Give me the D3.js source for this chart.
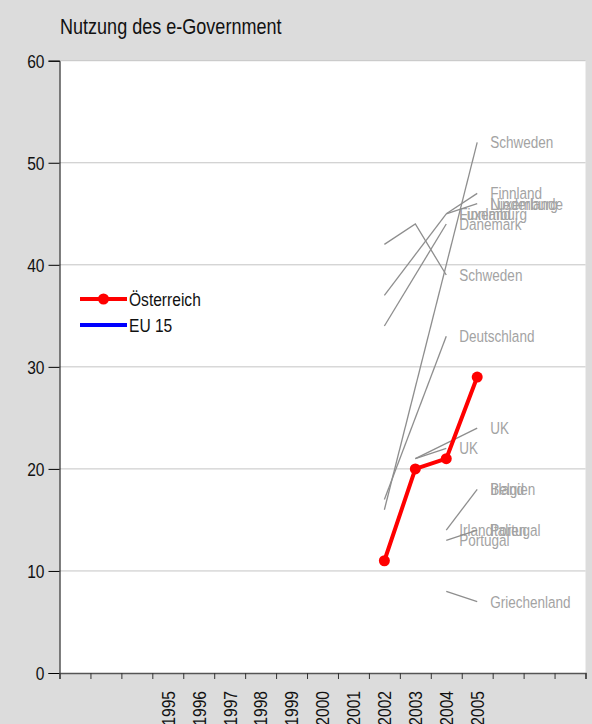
<!DOCTYPE html>
<html>
<head>
<meta charset="utf-8">
<script src="https://cdn.jsdelivr.net/npm/d3@7/dist/d3.min.js"></script>
<style>
  html, body { margin: 0; padding: 0; background: #dcdcdc; }
  svg { display: block; font-family: "Liberation Sans", Arial, sans-serif; }
</style>
</head>
<body>
<svg id="chart" width="592" height="724"></svg>
<script>
// Category slots along the x axis (only 1995-2005 carry a label)
const years = [1992, 1993, 1994, 1995, 1996, 1997, 1998, 1999, 2000, 2001, 2002, 2003, 2004, 2005, 2006, 2007, 2008];
const yearLabels = ["1995", "1996", "1997", "1998", "1999", "2000", "2001", "2002", "2003", "2004", "2005"];
const yTicks = [0, 10, 20, 30, 40, 50, 60];

// Österreich
const austriaYears = [2002, 2003, 2004, 2005];
const austriaValues = [11, 20, 21, 29];

// Country comparison lines, values for 2002..2005 (null = no value)
const compareYears = [2002, 2003, 2004, 2005];
const countriesA = ["Schweden", "Finnland", "Luxemburg", "Dänemark", "Deutschland", "UK", "Irland", "Portugal"];
const valuesA = [
  [42, 44, 39, null],
  [37, null, 45, null],
  [null, null, 45, null],
  [34, null, 44, null],
  [17, null, 33, null],
  [null, 21, 22, null],
  [null, null, 14, null],
  [null, null, 13, null]
];
const countriesB = ["Schweden", "Finnland", "Niederlande", "Luxemburg", "UK", "Belgien", "Irland", "Italien", "Portugal", "Griechenland"];
const valuesB = [
  [16, null, null, 52],
  [null, null, 45, 47],
  [null, null, null, 46],
  [null, null, 45, 46],
  [null, 21, null, 24],
  [null, null, null, 18],
  [null, null, 14, 18],
  [null, null, null, 14],
  [null, null, 13, 14],
  [null, null, 8, 7]
];

const legendNames = ["Österreich", "EU 15"];
const legendColors = ["#ff0000", "#0000ff"];

// narrow lettering: Arial-metric font squeezed horizontally
const NARROW = 0.82;

const svg = d3.select("#chart");
const plot = { left: 59.5, right: 585.5, top: 60.7, bottom: 673 };

const x = d3.scaleBand().domain(years).range([plot.left, plot.right]).padding(0);
const xEdges = d3.scaleLinear().domain([0, years.length]).range([plot.left, plot.right]);
const y = d3.scaleLinear().domain([0, 60]).range([plot.bottom, plot.top]);
const cx = yr => x(yr) + x.bandwidth() / 2;

function narrowText(parent, tx, ty, str, size, fill) {
  return parent.append("text")
    .attr("transform", `translate(${tx},${ty}) scale(${NARROW},1)`)
    .attr("font-size", size).attr("fill", fill)
    .text(str);
}

// plot area
svg.append("rect")
  .attr("x", plot.left).attr("y", plot.top)
  .attr("width", plot.right - plot.left).attr("height", plot.bottom - plot.top)
  .attr("fill", "#ffffff");

// horizontal grid
svg.append("g")
  .selectAll("line")
  .data(yTicks.filter(t => t > 0))
  .join("line")
  .attr("x1", plot.left).attr("x2", plot.right)
  .attr("y1", d => y(d)).attr("y2", d => y(d))
  .attr("stroke", "#c4c4c4").attr("stroke-width", 1);

// title
narrowText(svg, 60, 34, "Nutzung des e-Government", 22, "#111");

// y axis
const yAxis = svg.append("g")
  .attr("transform", `translate(${plot.left},0)`)
  .call(d3.axisLeft(y).tickValues(yTicks).tickSize(11).tickPadding(4));
yAxis.select(".domain").attr("stroke", "#000");
yAxis.selectAll(".tick line").attr("stroke", "#000");
yAxis.selectAll(".tick text")
  .attr("x", 0).attr("dy", "0.36em")
  .attr("transform", `translate(-15,0) scale(${NARROW},1)`)
  .attr("font-size", 19).attr("fill", "#111");

// x axis: slot boundaries as ticks
const xTickAxis = svg.append("g")
  .attr("transform", `translate(0,${plot.bottom})`)
  .call(d3.axisBottom(xEdges).tickValues(d3.range(years.length + 1))
    .tickSize(6).tickFormat(""));
xTickAxis.select(".domain").attr("stroke", "#555").attr("stroke-width", 1.5);
xTickAxis.selectAll(".tick line").attr("stroke", "#333");

// x axis: rotated year labels at slot centres
const xLabelAxis = svg.append("g")
  .attr("transform", `translate(0,${plot.bottom})`)
  .call(d3.axisBottom(x).tickSize(0)
    .tickFormat(d => yearLabels.includes(String(d)) ? String(d) : ""));
xLabelAxis.select(".domain").remove();
xLabelAxis.selectAll(".tick text")
  .attr("transform", `rotate(-90) translate(-18,0) scale(${NARROW},1)`)
  .attr("text-anchor", "end")
  .attr("x", 0).attr("y", 0).attr("dy", "0.36em")
  .attr("font-size", 19).attr("fill", "#111");

// comparison lines with their country labels at the last point
const line = d3.line().x(d => cx(d.year)).y(d => y(d.v));
function drawGroup(names, vals, cls) {
  const series = names.map((n, i) => ({
    name: n,
    pts: compareYears.map((yr, j) => ({ year: yr, v: vals[i][j] })).filter(p => p.v !== null)
  }));
  const g = svg.append("g").attr("class", cls);
  g.selectAll("path")
    .data(series.filter(s => s.pts.length > 1))
    .join("path")
    .attr("d", s => line(s.pts))
    .attr("fill", "none").attr("stroke", "#8e8e8e").attr("stroke-width", 1.3);
  series.forEach(s => {
    const last = s.pts[s.pts.length - 1];
    narrowText(g, cx(last.year) + 13, y(last.v), s.name, 16.5, "#a3a3a3").attr("dy", "0.36em");
  });
}
drawGroup(countriesA, valuesA, "group-a");
drawGroup(countriesB, valuesB, "group-b");

// Österreich
const austria = austriaYears.map((yr, i) => ({ year: yr, v: austriaValues[i] }));
svg.append("path")
  .attr("d", line(austria))
  .attr("fill", "none").attr("stroke", "#ff0000").attr("stroke-width", 4)
  .attr("stroke-linejoin", "round");
svg.append("g").selectAll("circle")
  .data(austria)
  .join("circle")
  .attr("cx", d => cx(d.year)).attr("cy", d => y(d.v))
  .attr("r", 5.5).attr("fill", "#ff0000");

// legend
const legend = svg.append("g").attr("transform", "translate(80,299)");
legendNames.forEach((n, i) => {
  const row = legend.append("g").attr("transform", `translate(0,${i * 26})`);
  row.append("line").attr("x1", 0).attr("x2", 47).attr("y1", 0).attr("y2", 0)
    .attr("stroke", legendColors[i]).attr("stroke-width", 4);
  if (i === 0) row.append("circle").attr("cx", 23.5).attr("cy", 0).attr("r", 5.5).attr("fill", legendColors[i]);
  narrowText(row, 49, 0, n, 19, "#111").attr("dy", "0.36em");
});
</script>
</body>
</html>
